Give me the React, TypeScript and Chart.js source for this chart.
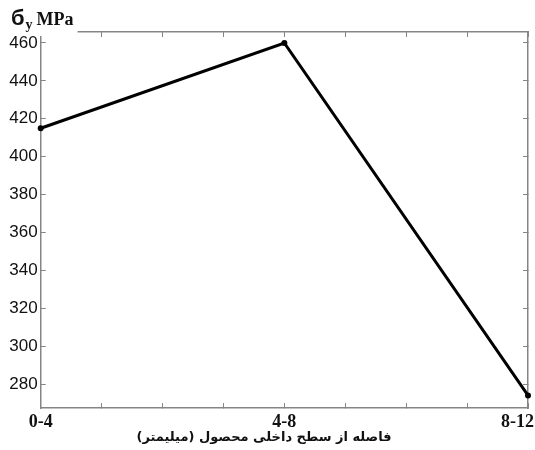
import { useEffect, useRef } from "react";
import { Chart, registerables } from "chart.js";

Chart.register(...registerables);

// Distance bands from the inner surface (mm) and the yield stress measured in each band
const categories = ["0-4", "4-8", "8-12"];
const yieldStress = [415, 460, 274];

// Value axis range and tick spacing (MPa)
const yMin = 267.3;
const yMax = 465.8;
const yStep = 20;
const yFirstTick = 280;
const yLastTick = 460;

// Minor tick spacing along the distance axis (in category units)
const xMinorStep = 0.25;

const ySymbol = "б";
const ySubscript = "y";
const yUnit = "MPa";
const xAxisTitle = "فاصله از سطح داخلی محصول (میلیمتر)";

const frameColor = "#858585";
const inkColor = "#111111";

const labelsPlugin = {
  id: "bandLabels",
  afterDraw(chart: any) {
    const { ctx, scales } = chart;
    const xs = scales.x;
    const W = chart.width;
    ctx.save();
    // Category labels under the distance axis, kept inside the canvas
    ctx.font = "bold 18px 'Liberation Serif', 'Times New Roman', serif";
    ctx.fillStyle = inkColor;
    ctx.textBaseline = "middle";
    ctx.textAlign = "center";
    categories.forEach((label, i) => {
      const w = ctx.measureText(label).width;
      let cx = xs.getPixelForValue(i);
      cx = Math.max(w / 2 + 2, Math.min(W - w / 2 - 1, cx));
      ctx.fillText(label, cx, xs.top + 14);
    });

    // Axis quantity label sits on an opaque box over the top-left frame corner
    ctx.textAlign = "left";
    ctx.textBaseline = "alphabetic";
    const baseY = 25;
    let x = 11;
    ctx.font = "bold 22px 'Liberation Sans', Arial, sans-serif";
    const symW = ctx.measureText(ySymbol).width;
    ctx.font = "bold 14px 'Liberation Serif', 'Times New Roman', serif";
    const subW = ctx.measureText(ySubscript).width;
    ctx.font = "bold 18px 'Liberation Serif', 'Times New Roman', serif";
    const unitW = ctx.measureText(yUnit).width;
    ctx.fillStyle = "#ffffff";
    ctx.fillRect(0, 0, x + symW + 1 + subW + 4 + unitW + 4, chart.chartArea.top + 4);

    ctx.fillStyle = inkColor;
    ctx.font = "bold 22px 'Liberation Sans', Arial, sans-serif";
    ctx.fillText(ySymbol, x, baseY);
    x += symW + 1;
    ctx.font = "bold 14px 'Liberation Serif', 'Times New Roman', serif";
    ctx.fillText(ySubscript, x, baseY + 4);
    x += subW + 4;
    ctx.font = "bold 18px 'Liberation Serif', 'Times New Roman', serif";
    ctx.fillText(yUnit, x, baseY);
    ctx.restore();
  },
};

export default function App() {
  const canvasRef = useRef<HTMLCanvasElement | null>(null);

  useEffect(() => {
    if (!canvasRef.current) return;

    const frameGrid = {
      drawOnChartArea: false,
      drawTicks: true,
      tickLength: -5,
      color: frameColor,
      lineWidth: 1,
    };
    const frameBorder = { display: true, color: frameColor, width: 1.5 };

    const xAxisBase = {
      type: "linear" as const,
      min: 0,
      max: categories.length - 1,
      ticks: { display: false, stepSize: xMinorStep },
      grid: frameGrid,
      border: frameBorder,
    };
    const yAxisBase = {
      type: "linear" as const,
      min: yMin,
      max: yMax,
      grid: frameGrid,
      border: frameBorder,
    };

    const chart = new Chart(canvasRef.current, {
      type: "line",
      data: {
        datasets: [
          {
            data: categories.map((_, i) => ({ x: i, y: yieldStress[i] })),
            borderColor: "#000000",
            backgroundColor: "#000000",
            borderWidth: 3,
            pointRadius: 3,
            pointBackgroundColor: "#000000",
            pointBorderWidth: 0,
            tension: 0,
            clip: false,
          },
        ],
      },
      options: {
        animation: false,
        responsive: false,
        layout: { padding: { top: 32, right: 7, left: 0, bottom: 0 } },
        plugins: {
          legend: { display: false },
          tooltip: { enabled: false },
          title: {
            display: true,
            position: "bottom",
            text: xAxisTitle,
            color: inkColor,
            font: { family: "'DejaVu Sans', sans-serif", size: 13, weight: "bold", lineHeight: 1.3 },
            padding: { top: 0, bottom: 4 },
          },
        },
        scales: {
          x: {
            ...xAxisBase,
            position: "bottom",
            afterFit: (s: any) => {
              s.height = 21;
              s.paddingLeft = 0;
              s.paddingRight = 0;
            },
          },
          xTop: {
            ...xAxisBase,
            position: "top",
            afterFit: (s: any) => {
              s.height = 0;
              s.paddingLeft = 0;
              s.paddingRight = 0;
            },
          },
          y: {
            ...yAxisBase,
            position: "left",
            ticks: {
              stepSize: yStep,
              includeBounds: false,
              color: inkColor,
              padding: 8,
              font: { family: "'Liberation Sans', Arial, sans-serif", size: 17 },
              callback: (v: any) => (v >= yFirstTick && v <= yLastTick ? String(v) : ""),
            },
            afterFit: (s: any) => {
              s.width = 40.7;
              s.paddingTop = 0;
              s.paddingBottom = 0;
            },
          },
          yRight: {
            ...yAxisBase,
            position: "right",
            ticks: { display: false, stepSize: yStep, includeBounds: false },
            afterFit: (s: any) => {
              s.width = 0;
              s.paddingTop = 0;
              s.paddingBottom = 0;
            },
          },
        },
      } as any,
      plugins: [labelsPlugin],
    });

    return () => chart.destroy();
  }, []);

  return (
    <div style={{ position: "fixed", left: 0, top: 0, width: 535, height: 450, background: "#ffffff" }}>
      <canvas ref={canvasRef} width={535} height={450} style={{ display: "block" }} />
    </div>
  );
}
